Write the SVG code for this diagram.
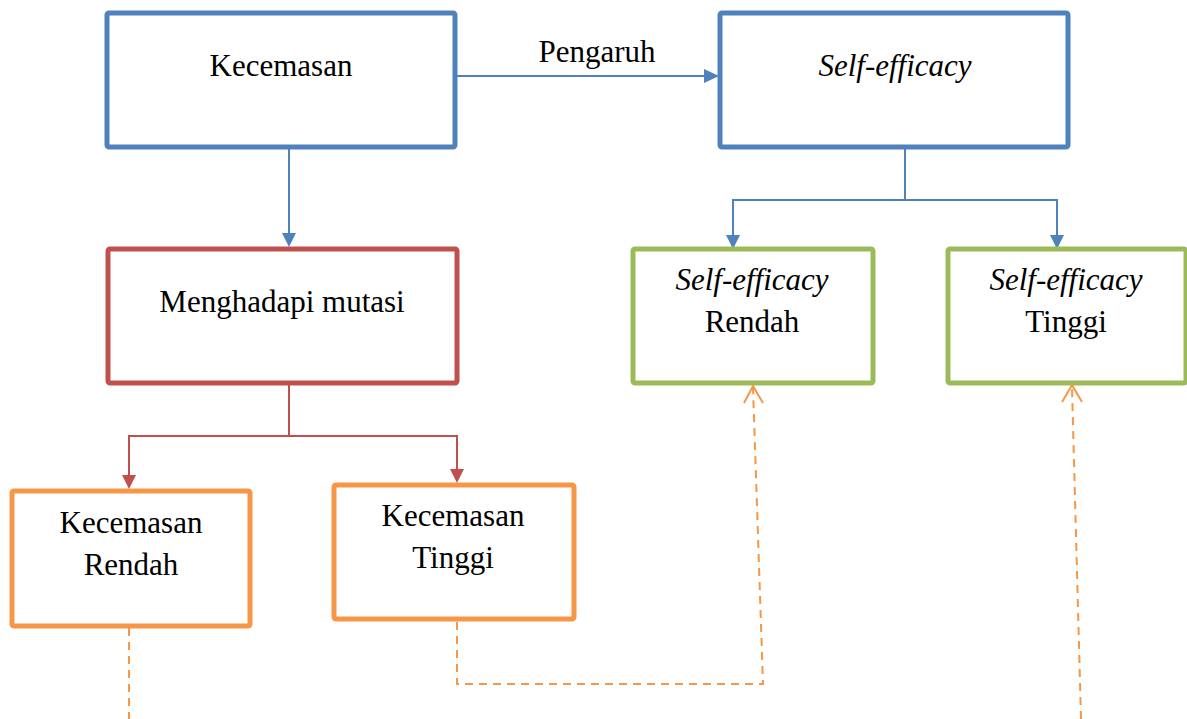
<svg xmlns="http://www.w3.org/2000/svg" width="1187" height="719" viewBox="0 0 1187 719">
<defs>
<style>
.box{fill:#fff;stroke-width:5;stroke-linejoin:round}
.blue{stroke:#4F81BD}.red{stroke:#C0504D}.green{stroke:#9BBB59}.orange{stroke:#F79646}
.t{font-family:"Liberation Serif","Times New Roman",serif;font-size:31px;fill:#000;text-anchor:middle}
.i{font-style:italic}
.cb{stroke:#4F81BD;stroke-width:2;fill:none}
.cr{stroke:#C0504D;stroke-width:2;fill:none}
.co{stroke:#F79646;stroke-width:2;fill:none;stroke-dasharray:8,6}
.oh{stroke:#F79646;stroke-width:2;fill:none}
</style>
</defs>
<g id="connectors">
<line class="cb" x1="457" y1="76" x2="706" y2="76"/>
<polygon points="704,69 719,76 704,83" fill="#4F81BD"/>
<line class="cb" x1="289" y1="149" x2="289" y2="234"/>
<polygon points="282,233 296,233 289,247" fill="#4F81BD"/>
<polyline class="cb" points="733,236 733,200 1057,200 1057,236"/>
<line class="cb" x1="905" y1="149" x2="905" y2="200"/>
<polygon points="726,235 740,235 733,249" fill="#4F81BD"/>
<polygon points="1050,235 1064,235 1057,249" fill="#4F81BD"/>
<line class="cr" x1="289" y1="385" x2="289" y2="436"/>
<polyline class="cr" points="129,476 129,436 457,436 457,470"/>
<polygon points="122,475 136,475 129,489" fill="#C0504D"/>
<polygon points="450,469 464,469 457,483" fill="#C0504D"/>
<line class="co" x1="129" y1="628" x2="129" y2="719"/>
<polyline class="co" points="457,622 457,684 763,684 753,388"/>
<polyline class="oh" points="744,403 753,386 763,403"/>
<line class="co" x1="1081" y1="719" x2="1072" y2="388"/>
<polyline class="oh" points="1062,402 1072,385 1082,402"/>
<text class="t" x="597" y="62">Pengaruh</text>
</g>
<g id="kecemasan">
<rect class="box blue" x="107" y="13" width="348" height="134" rx="2"/>
<text class="t" x="281" y="76">Kecemasan</text>
</g>
<g id="self-efficacy">
<rect class="box blue" x="720" y="13" width="348" height="134" rx="2"/>
<text class="t i" x="895" y="76">Self-efficacy</text>
</g>
<g id="menghadapi-mutasi">
<rect class="box red" x="108" y="249" width="349" height="134" rx="2"/>
<text class="t" x="282" y="312">Menghadapi mutasi</text>
</g>
<g id="se-rendah">
<rect class="box green" x="633" y="249" width="240" height="134" rx="2"/>
<text class="t i" x="752" y="290">Self-efficacy</text>
<text class="t" x="752" y="332">Rendah</text>
</g>
<g id="se-tinggi">
<rect class="box green" x="948" y="249" width="238" height="134" rx="2"/>
<text class="t i" x="1066" y="290">Self-efficacy</text>
<text class="t" x="1066" y="332">Tinggi</text>
</g>
<g id="kec-rendah">
<rect class="box orange" x="12" y="491" width="238" height="135" rx="2"/>
<text class="t" x="131" y="533">Kecemasan</text>
<text class="t" x="131" y="575">Rendah</text>
</g>
<g id="kec-tinggi">
<rect class="box orange" x="334" y="485" width="240" height="134" rx="2"/>
<text class="t" x="453" y="526">Kecemasan</text>
<text class="t" x="453" y="568">Tinggi</text>
</g>
</svg>
